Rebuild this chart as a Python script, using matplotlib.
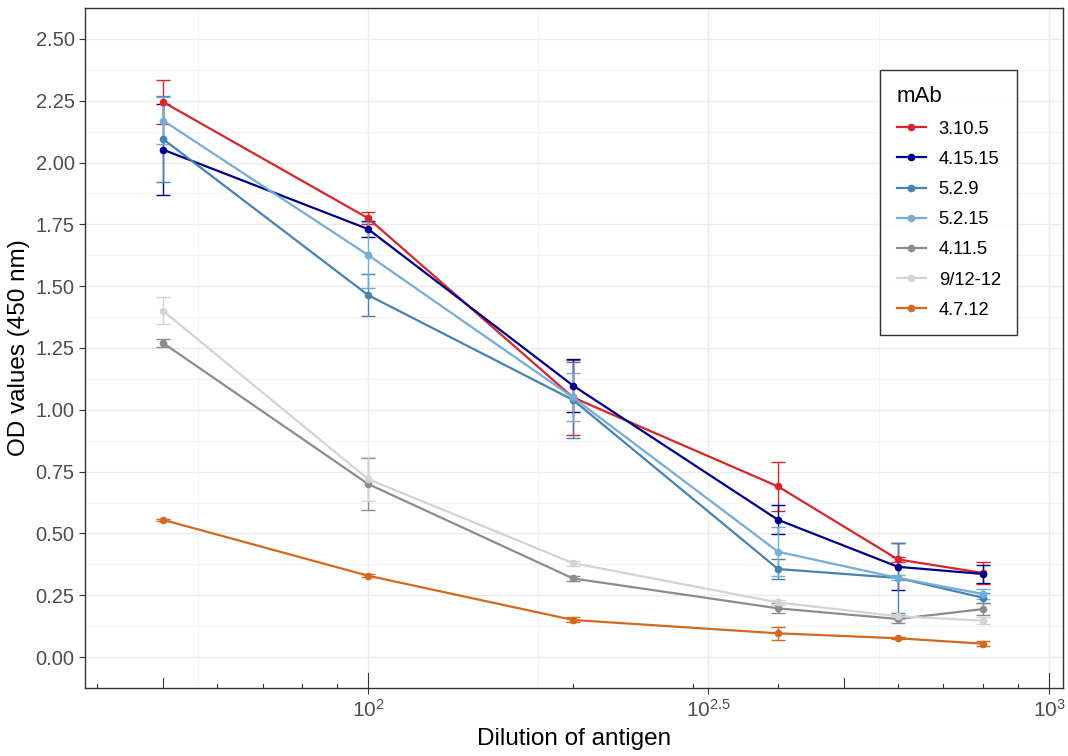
import numpy as np
import matplotlib
matplotlib.use("Agg")
import matplotlib.pyplot as plt
from matplotlib.ticker import FixedLocator, NullFormatter

plt.rcParams['font.family'] = ['Liberation Sans', 'DejaVu Sans']
plt.rcParams['mathtext.default'] = 'regular'

# dilutions
dilution = [50, 100, 200, 400, 600, 800]

mabs = ['3.10.5', '4.15.15', '5.2.9', '5.2.15', '4.11.5', '9/12-12', '4.7.12']
colors = ['#D7262B', '#00008B', '#4682B4', '#74ADD8', '#8C8C8C', '#D3D3D3', '#D2691E']

od_3105 = [2.245, 1.775, 1.05, 0.69, 0.395, 0.34]
od_41515 = [2.052, 1.731, 1.098, 0.555, 0.365, 0.336]
od_529 = [2.095, 1.464, 1.04, 0.356, 0.32, 0.24]
od_5215 = [2.17, 1.626, 1.05, 0.426, 0.32, 0.255]
od_4115 = [1.27, 0.70, 0.318, 0.197, 0.154, 0.194]
od_91212 = [1.40, 0.72, 0.38, 0.221, 0.165, 0.147]
od_4712 = [0.555, 0.329, 0.15, 0.096, 0.076, 0.054]

sd_3105 = [0.09, 0.025, 0.15, 0.10, 0.01, 0.045]
sd_41515 = [0.183, 0.034, 0.107, 0.058, 0.095, 0.037]
sd_529 = [0.175, 0.086, 0.155, 0.04, 0.14, 0.02]
sd_5215 = [0.095, 0.135, 0.097, 0.10, 0.01, 0.02]
sd_4115 = [0.015, 0.105, 0.01, 0.02, 0.015, 0.025]
sd_91212 = [0.055, 0.09, 0.01, 0.01, 0.01, 0.015]
sd_4712 = [0.005, 0.005, 0.01, 0.027, 0.005, 0.01]

ods = [od_3105, od_41515, od_529, od_5215, od_4115, od_91212, od_4712]
sds = [sd_3105, sd_41515, sd_529, sd_5215, sd_4115, sd_91212, sd_4712]

fig = plt.figure(figsize=(10.68, 7.56), dpi=100)
ax = fig.add_axes([0.0796, 0.09, 0.9157, 0.8994])

for name, c, y, e in zip(mabs, colors, ods, sds):
    ax.errorbar(dilution, y, yerr=e, color=c, lw=0, elinewidth=1.0,
                capsize=5, capthick=1.0, zorder=2)
    ax.plot(dilution, y, color=c, lw=1.6, marker='o', ms=4.5, label=name, zorder=3)

ax.set_xscale('log')
ax.set_xlim(38.4, 1048.6)
ax.set_ylim(-0.125, 2.625)

# grid
ax.set_facecolor('white')
ax.xaxis.set_major_locator(FixedLocator([100, 10**2.5, 1000]))
ax.xaxis.set_minor_locator(FixedLocator([10**1.75, 10**2.25, 10**2.75]))
ax.set_xticklabels(['$10^{2}$', '$10^{2.5}$', '$10^{3}$'])
ax.xaxis.set_minor_formatter(NullFormatter())
yt = np.arange(0, 2.51, 0.25)
ax.set_yticks(yt)
ax.set_yticklabels(['%.2f' % v for v in yt])
ax.yaxis.set_minor_locator(FixedLocator(yt[:-1] + 0.125))
ax.grid(which='major', color='#EBEBEB', lw=1.0, zorder=0)
ax.grid(which='minor', color='#F2F2F2', lw=0.6, zorder=0)
ax.set_axisbelow(True)

ax.tick_params(which='major', length=4, width=0.8, color='#333333',
               labelsize=14.5, labelcolor='#4D4D4D')
ax.tick_params(which='minor', length=0)
ax.tick_params(axis='x', which='major', pad=4, labelsize=15)
for s in ax.spines.values():
    s.set_color('#333333')
    s.set_linewidth(1.0)

# log ticks along the bottom
tr = ax.get_xaxis_transform()
for v in [40, 60, 70, 80, 90, 200, 300, 400, 600, 700, 800, 900]:
    ax.plot([v, v], [0, 0.006], color='#333333', lw=0.8, transform=tr, clip_on=False, zorder=4)
for v in [50, 500]:
    ax.plot([v, v], [0, 0.015], color='#333333', lw=0.8, transform=tr, clip_on=False, zorder=4)
for v in [100, 1000]:
    ax.plot([v, v], [0, 0.022], color='#333333', lw=0.8, transform=tr, clip_on=False, zorder=4)

ax.set_xlabel('Dilution of antigen', fontsize=17.5, labelpad=5)
ax.set_ylabel('OD values (450 nm)', fontsize=17.5, labelpad=4)

leg = ax.legend(title='mAb', loc='upper left', bbox_to_anchor=(0.813, 0.909),
                fontsize=13.2, title_fontsize=16, frameon=True, fancybox=False,
                edgecolor='black', handlelength=1.6, labelspacing=0.72,
                borderpad=0.9, handletextpad=0.7, borderaxespad=0)
leg._legend_box.align = 'left'
leg.get_frame().set_linewidth(1.0)

fig.savefig('out.png', dpi=100)
